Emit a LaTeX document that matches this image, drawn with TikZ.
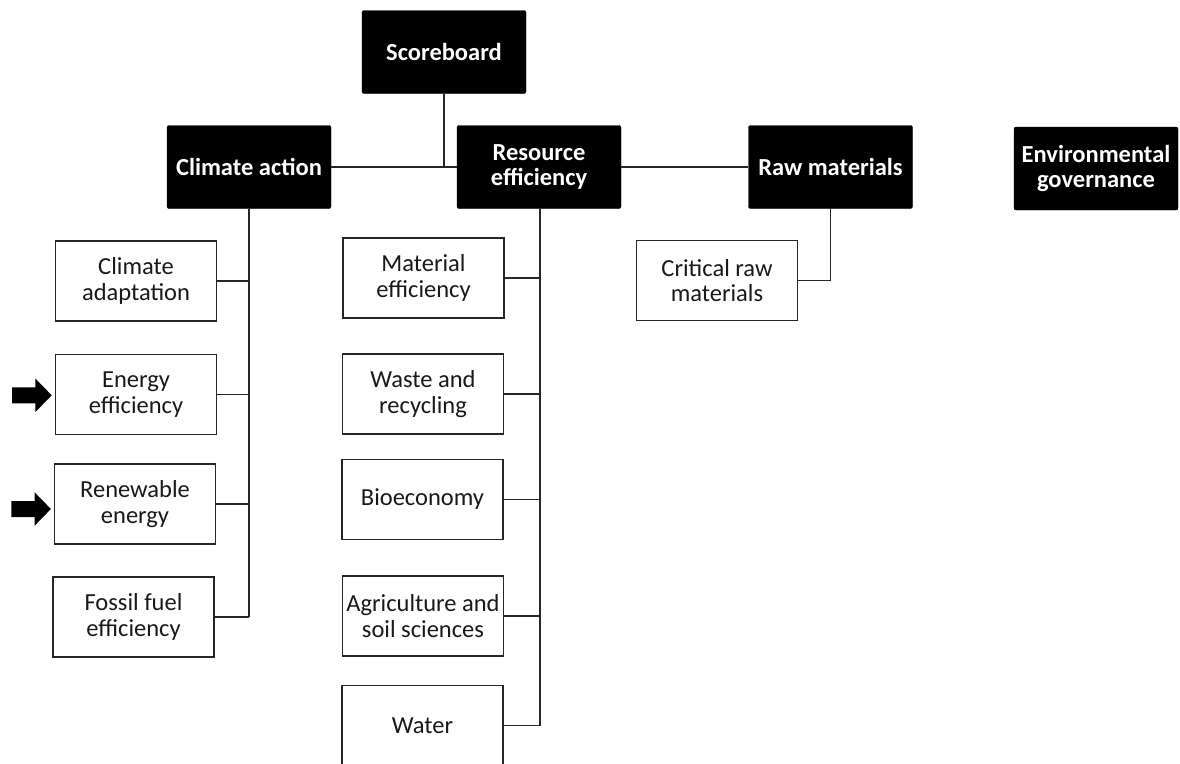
\documentclass[tikz,border=0pt]{standalone}
\usepackage{fontspec}
\setmainfont{Carlito}
\begin{document}
\begin{tikzpicture}[x=1pt,y=-1pt,
  topbox/.style={fill=black, draw=black, rounded corners=2pt, minimum width=164pt, minimum height=83pt, inner sep=0pt, align=center, text=white, font=\fontsize{24.5}{25.5}\selectfont\bfseries},
  subbox/.style={fill=white, draw=black!85, line width=1.2pt, minimum width=161pt, minimum height=80pt, inner sep=0pt, align=center, text=black!90, font=\fontsize{24.5}{25.5}\selectfont},
  link/.style={draw=black!85, line width=1.2pt},
  pointer/.style={fill=black}]
\useasboundingbox (0,0) rectangle (1180,763);
\clip (0,0) rectangle (1180,763);

% top-level boxes
\node[topbox] (SB) at (444,52) {Scoreboard};
\node[topbox] (CA) at (249,167) {Climate action};
\node[topbox] (RE) at (539,167) {Resource\\efficiency};
\node[topbox] (RM) at (830.5,167) {Raw materials};
\node[topbox] (EG) at (1096,168.5) {Environmental\\governance};

% climate action children
\node[subbox] (CAD) at (136,281) {Climate\\adaptation};
\node[subbox] (EE) at (136,394.5) {Energy\\efficiency};
\node[subbox] (REN) at (135,504) {Renewable\\energy};
\node[subbox] (FF) at (133.5,617) {Fossil fuel\\efficiency};

% resource efficiency children
\node[subbox] (ME) at (423.5,278) {Material\\efficiency};
\node[subbox] (WR) at (423,394) {Waste and\\recycling};
\node[subbox] (BE) at (422.5,499.5) {Bioeconomy};
\node[subbox] (AG) at (423,616) {Agriculture and\\soil sciences};
\node[subbox] (WA) at (422.5,725.5) {Water};

% raw materials child
\node[subbox] (CRM) at (717,280.5) {Critical raw\\materials};

% top connectors
\draw[link] (SB.south) -- (SB.south |- CA.east);
\draw[link] (CA.east) -- (RE.west |- CA.east);
\draw[link] (RE.east) -- (RM.west |- RE.east);

% climate action tree
\draw[link] (CA.south) -- (CA.south |- FF.east);
\foreach \c in {CAD,EE,REN,FF}
  \draw[link] (\c.east) -- (\c.east -| CA.south);

% resource efficiency tree
\coordinate (REs) at ([xshift=1pt]RE.south);
\draw[link] (REs) -- (REs |- WA.east);
\foreach \c in {ME,WR,BE,AG,WA}
  \draw[link] (\c.east) -- (\c.east -| REs);

% raw materials tree
\draw[link] (RM.south) -- (RM.south |- CRM.east);
\draw[link] (CRM.east) -- (CRM.east -| RM.south);

% pointer arrows
\coordinate (a1) at ([shift={(-3.2,0.8)}]EE.west);
\coordinate (a2) at ([shift={(-3,5)}]REN.west);
\foreach \t in {a1,a2}
  \fill[pointer] (\t) -- ++(-16.3,-16.7) -- ++(0,8.7) -- ++(-23.3,0) -- ++(0,16) -- ++(23.3,0) -- ++(0,8.7) -- cycle;
\end{tikzpicture}
\end{document}
